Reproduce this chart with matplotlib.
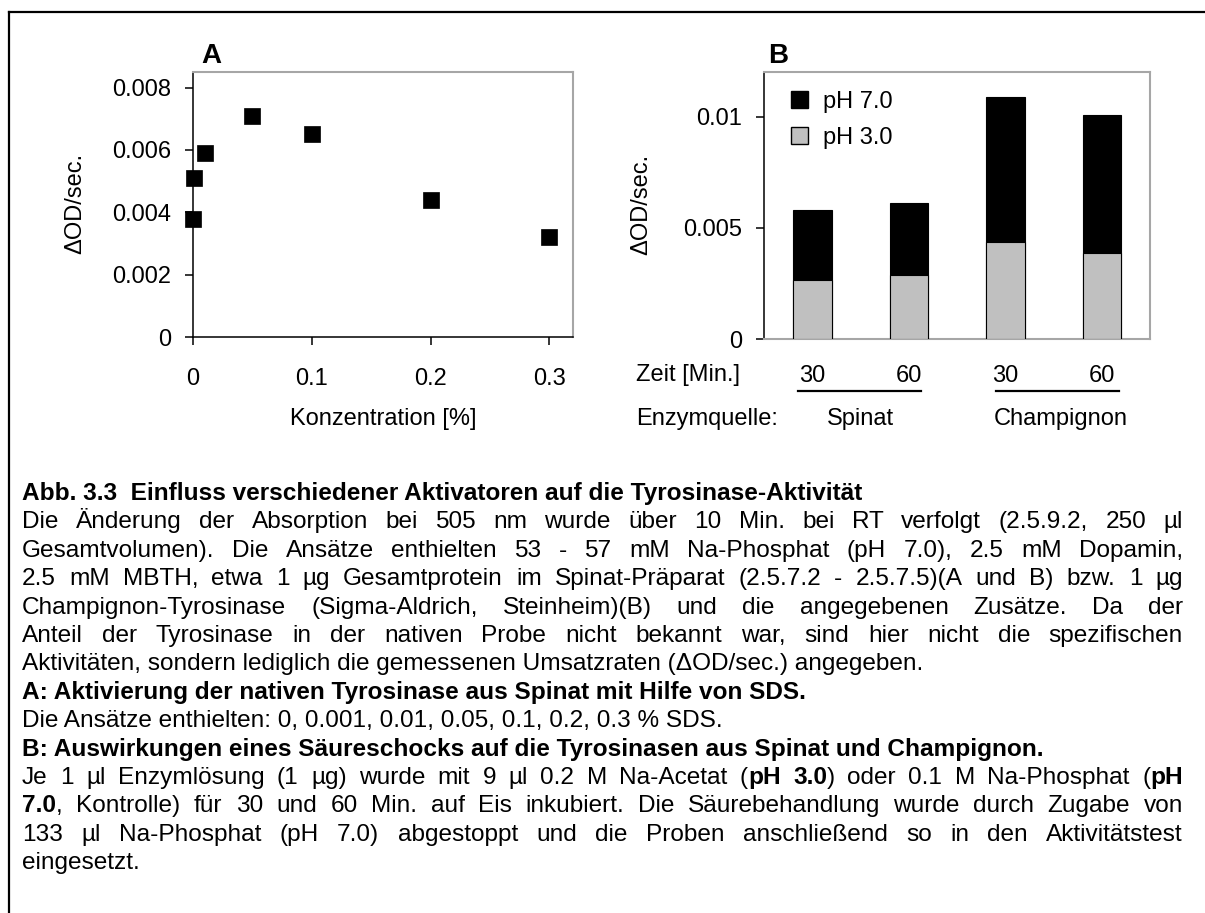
import matplotlib
matplotlib.use('Agg')
import matplotlib.pyplot as plt
from matplotlib.lines import Line2D
from matplotlib.patches import Patch
from matplotlib.transforms import blended_transform_factory

plt.rcParams['font.family'] = ['Liberation Sans', 'DejaVu Sans']

# ---------------- data ----------------
sds_conc = [0, 0.001, 0.01, 0.05, 0.1, 0.2, 0.3]
sds_rate = [0.0038, 0.0051, 0.0059, 0.0071, 0.0065, 0.0044, 0.0032]
a_xticks = [0, 0.1, 0.2, 0.3]
a_xticklabels = ["0", "0.1", "0.2", "0.3"]
a_yticks = [0, 0.002, 0.004, 0.006, 0.008]
a_yticklabels = ["0", "0.002", "0.004", "0.006", "0.008"]

time_labels = ["30", "60", "30", "60"]
sources = ["Spinat", "Champignon"]
ph7_rate = [0.0058, 0.0061, 0.0109, 0.0101]
ph3_rate = [0.00265, 0.00286, 0.00436, 0.00388]
b_yticks = [0, 0.005, 0.01]
b_yticklabels = ["0", "0.005", "0.01"]

W, H = 1205, 913
fig = plt.figure(figsize=(W / 100, H / 100), dpi=100)


def fx(px):
    return px / W


def fy(py):
    return 1 - py / H


FS = 17
GRAY_SP = '#a6a6a6'

# ---------------- frame ----------------
fig.add_artist(Line2D([fx(9), fx(1205)], [fy(12), fy(12)], color='black', lw=1.6, transform=fig.transFigure))
fig.add_artist(Line2D([fx(9), fx(9)], [fy(12), fy(913)], color='black', lw=1.6, transform=fig.transFigure))

# ---------------- panel A ----------------
axA = fig.add_axes([fx(193), fy(337), (573 - 193) / W, (337 - 72) / H])
axA.plot(sds_conc, sds_rate, linestyle='none', marker='s', markersize=11.5,
         markeredgewidth=0.5, color='black', clip_on=False, zorder=5)
axA.set_xlim(0, 0.32)
axA.set_ylim(0, 0.0085)
axA.set_xticks(a_xticks)
axA.set_xticklabels(a_xticklabels)
axA.set_yticks(a_yticks)
axA.set_yticklabels(a_yticklabels)
axA.tick_params(axis='both', direction='out', length=6, width=1.1, labelsize=FS, colors='black')
axA.tick_params(axis='y', pad=10)
axA.tick_params(axis='x', pad=16)
for s in ['left', 'bottom']:
    axA.spines[s].set_color('black')
    axA.spines[s].set_linewidth(1.1)
for s in ['top', 'right']:
    axA.spines[s].set_color(GRAY_SP)
    axA.spines[s].set_linewidth(1.5)
fig.text(fx(75), fy(203), 'ΔOD/sec.', rotation=90, ha='center', va='center', fontsize=FS)
fig.text(fx(383), fy(419), 'Konzentration [%]', ha='center', va='center', fontsize=FS)
fig.text(fx(201), fy(63), 'A', ha='left', va='baseline', fontsize=20, fontweight='bold')

# ---------------- panel B ----------------
axB = fig.add_axes([fx(764.3), fy(339), (1150 - 764.3) / W, (339 - 72.3) / H])
xpos = list(range(len(ph7_rate)))
axB.bar(xpos, ph7_rate, width=0.4, color='black', edgecolor='black', linewidth=0.8, zorder=2)
axB.bar(xpos, ph3_rate, width=0.4, color='#c0c0c0', edgecolor='black', linewidth=0.8, zorder=3)
axB.set_xlim(-0.5, 3.5)
axB.set_ylim(0, 0.012)
axB.set_yticks(b_yticks)
axB.set_yticklabels(b_yticklabels)
axB.set_xticks(xpos)
axB.set_xticklabels(time_labels)
axB.tick_params(axis='y', direction='out', length=6, width=1.1, labelsize=FS, pad=10)
axB.tick_params(axis='x', length=0, labelsize=FS, pad=19)
axB.spines['left'].set_color('black')
axB.spines['left'].set_linewidth(1.1)
for s in ['top', 'right', 'bottom']:
    axB.spines[s].set_color(GRAY_SP)
    axB.spines[s].set_linewidth(1.5)

handles = [Patch(facecolor='black', edgecolor='black', label='pH 7.0'),
           Patch(facecolor='#c0c0c0', edgecolor='black', label='pH 3.0')]
axB.legend(handles=handles, loc='upper left', bbox_to_anchor=(0.046, 0.967), borderaxespad=0,
           frameon=False, fontsize=FS, handlelength=0.7, handleheight=0.7, handletextpad=0.63,
           labelspacing=0.6)

fig.text(fx(641), fy(204), 'ΔOD/sec.', rotation=90, ha='center', va='center', fontsize=FS)
fig.text(fx(636), fy(375), 'Zeit [Min.]', ha='left', va='center', fontsize=FS)
fig.text(fx(636), fy(419), 'Enzymquelle:', ha='left', va='center', fontsize=FS)
trB = blended_transform_factory(axB.transData, axB.transAxes)
axB.add_line(Line2D([-0.15, 1.12], [-0.195, -0.195], color='black', lw=1.6, transform=trB, clip_on=False))
axB.add_line(Line2D([1.90, 3.18], [-0.195, -0.195], color='black', lw=1.6, transform=trB, clip_on=False))
axB.text(0.5, -0.30, sources[0], transform=trB, ha='center', va='center', fontsize=FS)
axB.text(2.57, -0.30, sources[1], transform=trB, ha='center', va='center', fontsize=FS)
fig.text(fx(768), fy(63), 'B', ha='left', va='baseline', fontsize=20, fontweight='bold')

# ---------------- caption ----------------
LEFT, RIGHT = 22, 1183
caption = [
    ([("Abb. 3.3  Einfluss verschiedener Aktivatoren auf die Tyrosinase-Aktivität", True)], False),
    ([("Die Änderung der Absorption bei 505 nm wurde über 10 Min. bei RT verfolgt (2.5.9.2, 250 µl", False)], True),
    ([("Gesamtvolumen). Die Ansätze enthielten 53 - 57 mM Na-Phosphat (pH 7.0), 2.5 mM Dopamin,", False)], True),
    ([("2.5 mM MBTH, etwa 1 µg Gesamtprotein im Spinat-Präparat (2.5.7.2 - 2.5.7.5)(A und B) bzw. 1 µg", False)], True),
    ([("Champignon-Tyrosinase (Sigma-Aldrich, Steinheim)(B) und die angegebenen Zusätze. Da der", False)], True),
    ([("Anteil der Tyrosinase in der nativen Probe nicht bekannt war, sind hier nicht die spezifischen", False)], True),
    ([("Aktivitäten, sondern lediglich die gemessenen Umsatzraten (ΔOD/sec.) angegeben.", False)], False),
    ([("A: Aktivierung der nativen Tyrosinase aus Spinat mit Hilfe von SDS.", True)], False),
    ([("Die Ansätze enthielten: 0, 0.001, 0.01, 0.05, 0.1, 0.2, 0.3 % SDS.", False)], False),
    ([("B: Auswirkungen eines Säureschocks auf die Tyrosinasen aus Spinat und Champignon.", True)], False),
    ([("Je 1 µl Enzymlösung (1 µg) wurde mit 9 µl 0.2 M Na-Acetat (", False), ("pH 3.0", True),
      (") oder 0.1 M Na-Phosphat (", False), ("pH", True)], True),
    ([("7.0", True), (", Kontrolle) für 30 und 60 Min. auf Eis inkubiert. Die Säurebehandlung wurde durch Zugabe von", False)], True),
    ([("133 µl Na-Phosphat (pH 7.0) abgestoppt und die Proben anschließend so in den Aktivitätstest", False)], True),
    ([("eingesetzt.", False)], False),
]

renderer = fig.canvas.get_renderer()


def text_width(s, bold, size):
    t = fig.text(0, 0, s, fontsize=size, fontweight='bold' if bold else 'normal')
    w = t.get_window_extent(renderer).width
    t.remove()
    return w


def words_from_runs(runs):
    words = [[]]
    for text, bold in runs:
        parts = text.split(' ')
        for i, p in enumerate(parts):
            if i > 0:
                words.append([])
            if p:
                words[-1].append((p, bold))
    return [w for w in words if w]


# choose the caption size so that the justified lines still fit with small word gaps
CFS = 17.6
while CFS > 10:
    sp = text_width("x x", False, CFS) - text_width("xx", False, CFS)
    ok = True
    for runs, justify in caption:
        if not justify:
            continue
        words = words_from_runs(runs)
        tot = sum(text_width(p, b, CFS) for w in words for p, b in w)
        if tot + 0.75 * sp * (len(words) - 1) > RIGHT - LEFT:
            ok = False
            break
    if ok:
        break
    CFS -= 0.2

y0, dy = 500, 28.4
for i, (runs, justify) in enumerate(caption):
    yb = y0 + i * dy
    if not justify:
        x = LEFT
        for text, bold in runs:
            fig.text(fx(x), fy(yb), text, fontsize=CFS, fontweight='bold' if bold else 'normal',
                     ha='left', va='baseline')
            x += text_width(text, bold, CFS)
        continue
    words = words_from_runs(runs)
    widths = [[text_width(p, b, CFS) for p, b in w] for w in words]
    total = sum(sum(w) for w in widths)
    gap = (RIGHT - LEFT - total) / (len(words) - 1)
    x = LEFT
    for w, ws in zip(words, widths):
        xx = x
        for (p, b), pw in zip(w, ws):
            fig.text(fx(xx), fy(yb), p, fontsize=CFS, fontweight='bold' if b else 'normal',
                     ha='left', va='baseline')
            xx += pw
        x += sum(ws) + gap

fig.savefig('out.png', dpi=100)
